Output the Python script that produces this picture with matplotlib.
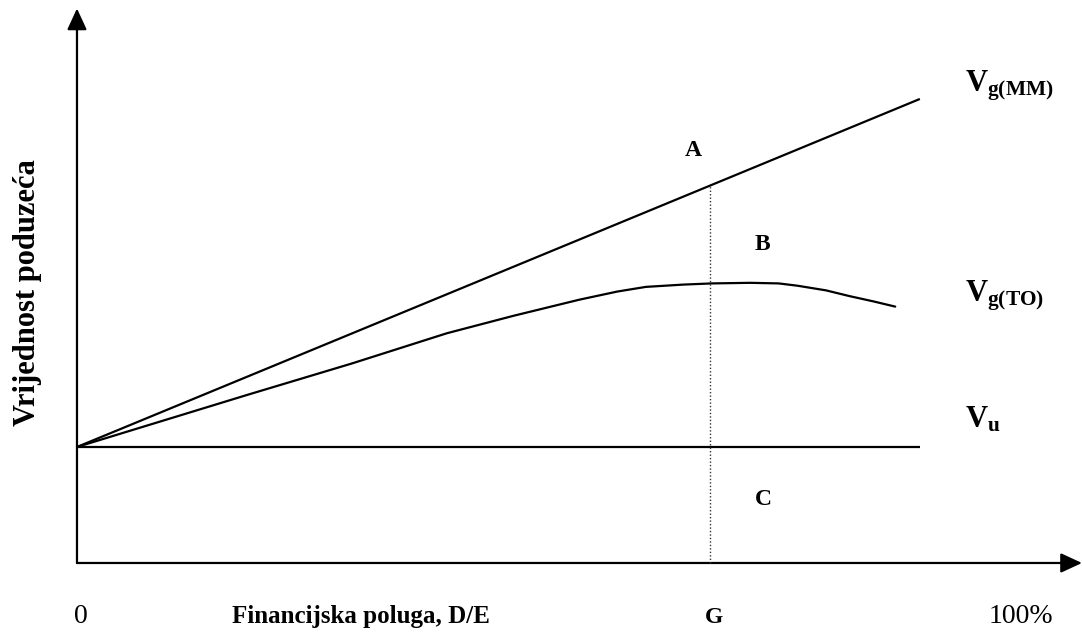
import matplotlib
matplotlib.use("Agg")
import matplotlib.pyplot as plt
from matplotlib.patches import FancyArrowPatch

plt.rcParams['font.family'] = ['Liberation Serif', 'DejaVu Serif']
plt.rcParams['mathtext.fontset'] = 'custom'
plt.rcParams['mathtext.rm'] = 'Liberation Serif'
plt.rcParams['mathtext.bf'] = 'Liberation Serif:bold'

# ---- data (leverage in %, firm value in units of V_u) ----
vu_x = [0, 88.9]
vu_y = [1.0, 1.0]
mm_x = [0, 88.9]
mm_y = [1.0, 4.0]
to_x = [0, 8, 18, 29, 39, 46, 53, 57, 60, 64, 67, 71, 74, 76, 79, 81.5, 84, 86.3]
to_y = [1.0, 1.20, 1.45, 1.72, 1.98, 2.13, 2.27, 2.34, 2.38, 2.40, 2.41, 2.415, 2.41, 2.39, 2.35, 2.30, 2.255, 2.21]
g_x = 66.8
g_top = 3.254
axis_x_max = 106.0
axis_y_max = 4.78
xlabel = "Financijska poluga, D/E"
ylabel = "Vrijednost poduzeća"

fig = plt.figure(figsize=(10.82, 6.37), dpi=100)
ax = fig.add_axes([0, 0, 1, 1])
ax.set_xlim(-8.12, 106.0)
ax.set_ylim(-0.638, 4.853)
ax.axis('off')

lw = 1.6
# axes with arrows
for start, end in [((0, 0), (0, axis_y_max)), ((0, 0), (axis_x_max, 0))]:
    ax.add_patch(FancyArrowPatch(start, end, arrowstyle='-|>,head_length=13,head_width=6',
                                 mutation_scale=1, lw=lw, color='black',
                                 shrinkA=0, shrinkB=0))

ax.plot(vu_x, vu_y, color='black', lw=lw, solid_capstyle='butt')
ax.plot(mm_x, mm_y, color='black', lw=lw, solid_capstyle='butt')
ax.plot(to_x, to_y, color='black', lw=lw, solid_capstyle='round', solid_joinstyle='round')
ax.plot([g_x, g_x], [0, g_top], color='#333333', lw=1.0, linestyle=(0, (1, 1.5)))

bold = dict(fontweight='bold', color='black')
ax.text(65.0, 3.51, 'A', fontsize=17, ha='center', va='baseline', **bold)
ax.text(72.3, 2.70, 'B', fontsize=17, ha='center', va='baseline', **bold)
ax.text(72.4, 0.50, 'C', fontsize=17, ha='center', va='baseline', **bold)

ax.text(93.7, 4.06, r'$\mathbf{V_{g(MM)}}$', fontsize=22, ha='left', va='baseline')
ax.text(93.7, 2.25, r'$\mathbf{V_{g(TO)}}$', fontsize=22, ha='left', va='baseline')
ax.text(93.7, 1.17, r'$\mathbf{V_{u}}$', fontsize=22, ha='left', va='baseline')

ax.text(0.4, -0.517, '0', fontsize=20, ha='center', va='baseline')
ax.text(30.0, -0.517, xlabel, fontsize=18, ha='center', va='baseline', **bold)
ax.text(67.2, -0.517, 'G', fontsize=17, ha='center', va='baseline', **bold)
ax.text(99.6, -0.517, '100%', fontsize=20, ha='center', va='baseline')

ax.text(-5.17, 2.33, ylabel, fontsize=22, rotation=90, ha='center', va='center', **bold)

fig.savefig('out.png', dpi=100, facecolor='white')
